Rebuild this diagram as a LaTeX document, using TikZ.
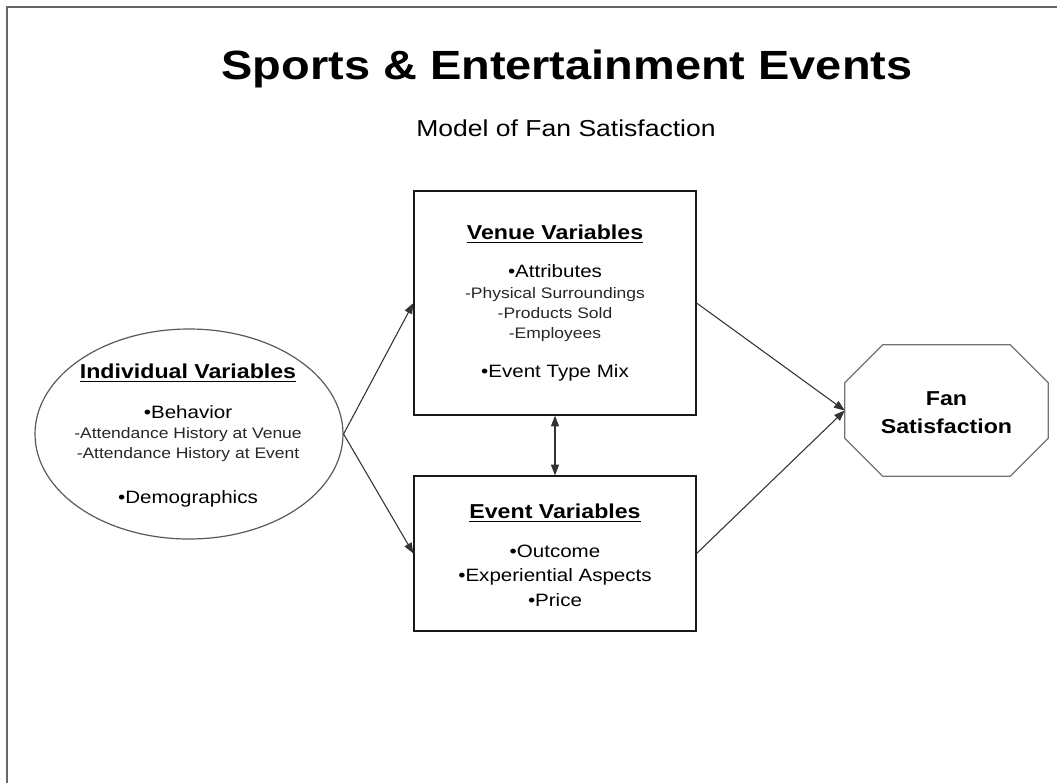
\documentclass[tikz,border=0pt]{standalone}
\usepackage{fontspec}
\setmainfont[FakeStretch=1.15]{Liberation Sans}
\usepackage{xcolor}
\usepackage{tikz}
\usetikzlibrary{positioning, calc, shapes.geometric, arrows.meta}

\newcommand{\ulhead}[1]{\setbox0=\hbox{#1}\rlap{\rule[-3.3pt]{\wd0}{1.2pt}}\box0}

\tikzset{
  boxnode/.style={draw=black!90, line width=0.9pt, rectangle, inner sep=0pt},
  ellnode/.style={draw=black!65, line width=0.9pt, ellipse, inner sep=0pt},
  octline/.style={draw=black!55, line width=1pt},
  framline/.style={draw=black!60, line width=1.1pt},
  conn/.style={draw=black!80, line width=0.8pt, -{Triangle[length=8pt,width=6pt]}},
  titletext/.style={font=\fontsize{30.6}{36}\selectfont\bfseries, inner sep=0pt},
  subtext/.style={font=\fontsize{17.3}{20}\selectfont, inner sep=0pt},
  headtext/.style={font=\fontsize{15.1}{18}\selectfont\bfseries, inner sep=0pt},
  bullettext/.style={font=\fontsize{13.4}{16}\selectfont, inner sep=0pt},
  subitem/.style={font=\fontsize{11.4}{14}\selectfont, inner sep=0pt, text=black!85}
}

\begin{document}
\begin{tikzpicture}[x=0.75pt,y=0.75pt,yscale=-1,xscale=1]
\useasboundingbox (0,0) rectangle (1057,783);

%Frame lines
\draw[framline] (7,783) -- (7,7) -- (1057,7);

%Shape: Rectangle
\node[boxnode, minimum width=211.5pt, minimum height=168pt] (venue) at (555,303) {};
%Shape: Rectangle
\node[boxnode, minimum width=211.5pt, minimum height=116.25pt] (event) at (555,553.5) {};
%Shape: Ellipse
\node[ellnode, minimum width=231pt, minimum height=157.5pt] (indiv) at (189,434) {};
%Shape: Octagon
\node[inner sep=0pt, minimum width=152.25pt, minimum height=98.25pt] (fan) at (946.5,410.5) {};
\draw[octline] ($(fan.north west)+(38,0)$) -- ($(fan.north east)+(-38,0)$) -- ($(fan.north east)+(0,38)$) -- ($(fan.south east)+(0,-38)$) -- ($(fan.south east)+(-38,0)$) -- ($(fan.south west)+(38,0)$) -- ($(fan.south west)+(0,-38)$) -- ($(fan.north west)+(0,38)$) -- cycle;

%Straight Lines
\draw[conn] (indiv.east) -- (venue.west);
\draw[conn] (indiv.east) -- (event.west);
\draw[conn] (venue.east) -- (fan.west);
\draw[conn] (event.east) -- (fan.west);
\draw[conn, {Triangle[length=8pt,width=6pt]}-{Triangle[length=8pt,width=6pt]}] (venue.south) -- (event.north);

% Text Node
\draw (567,79.5) node (title) [titletext, anchor=base] {Sports \& Entertainment Events};
% Text Node
\draw (566,136) node (subtitle) [subtext, anchor=base] {Model of Fan Satisfaction};

% Text Node
\draw (555,239) node (venuehead) [headtext, anchor=base] {\ulhead{Venue Variables}};
\draw (555,277.5) node (venueattr) [bullettext, anchor=base] {•Attributes};
\draw (555,298) node (venuephys) [subitem, anchor=base] {-Physical Surroundings};
\draw (555,318) node (venueprod) [subitem, anchor=base] {-Products Sold};
\draw (555,338) node (venueempl) [subitem, anchor=base] {-Employees};
\draw (555,377) node (venuemix) [bullettext, anchor=base] {•Event Type Mix};

% Text Node
\draw (555,518) node (eventhead) [headtext, anchor=base] {\ulhead{Event Variables}};
\draw (555,557) node (eventout) [bullettext, anchor=base] {•Outcome};
\draw (555,581) node (eventexp) [bullettext, anchor=base] {•Experiential Aspects};
\draw (555,606.5) node (eventprice) [bullettext, anchor=base] {•Price};

% Text Node
\draw (188,378) node (indivhead) [headtext, anchor=base] {\ulhead{Individual Variables}};
\draw (188,418) node (indivbeh) [bullettext, anchor=base] {•Behavior};
\draw (188,438) node (indivvenue) [subitem, anchor=base] {-Attendance History at Venue};
\draw (188,458) node (indivevent) [subitem, anchor=base] {-Attendance History at Event};
\draw (188,503) node (indivdemo) [bullettext, anchor=base] {•Demographics};

% Text Node
\draw (946.5,405) node (fanline1) [headtext, anchor=base] {Fan};
\draw (946.5,433) node (fanline2) [headtext, anchor=base] {Satisfaction};

\end{tikzpicture}
\end{document}
